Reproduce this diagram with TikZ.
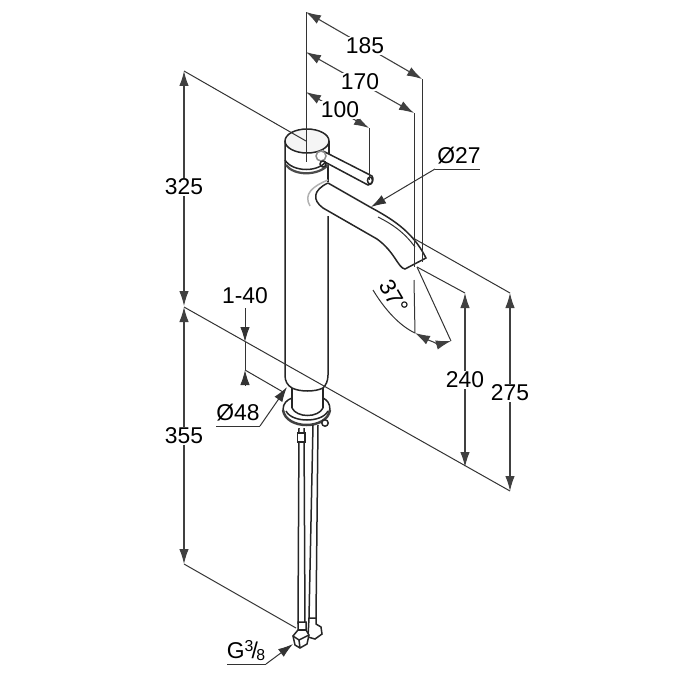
\documentclass[tikz,border=0pt]{standalone}
\usepackage{fontspec}
\setmainfont{Liberation Sans}
\usetikzlibrary{arrows.meta}
\tikzset{
  dimline/.style = {line width = 0.22mm, draw = black!75, {Latex[length=3mm,width=1.9mm]}-{Latex[length=3mm,width=1.9mm]}},
  helpline/.style = {line width = 0.2mm, draw = black!80},
  pointer/.style = {helpline, -{Latex[length=3mm,width=1.9mm]}},
  outline/.style = {line width = 0.3mm, draw = black!85},
  dimtext/.style = {fill = white, inner sep = 0.6pt, font = \fontsize{13}{13}\selectfont}
}
\begin{document}
\begin{tikzpicture}[x = 0.02cm, y = -0.02cm]
    \useasboundingbox (0,0) rectangle (700,700);
    % tap body
    \draw[outline] (285,141) -- (285,375) .. controls (285,381) and (287,385) .. (292,388);
    \draw[outline] (328,165) -- (328,182);
    \draw[outline] (328,216) -- (328,375) .. controls (328,381) and (326,385) .. (323,388);
    \draw[outline] (292,388) .. controls (300,392) and (315,392) .. (323,388);
    \draw[outline] (292,388) -- (292,408);
    \draw[outline] (323,388) -- (323,408);
    % cap
    \draw[outline, fill = black!4] (307,141) ellipse (22 and 12);
    \draw[outline] (329,141) -- (329,158);
    \draw[outline] (285,160) .. controls (292,172) and (320,174) .. (329,158);
    \draw[line width = 0.45mm, draw = black!70] (286,165) .. controls (294,176) and (318,176) .. (328,165);
    % lever
    \draw[outline, fill = white] (323,151) -- (372,176) .. controls (374,178) and (373,185) .. (368,185) -- (323,161);
    \draw[outline] (370,180.5) ellipse (2.5 and 3.5);
    \draw[line width = 0.3mm, draw = black!45, fill = white] (321,156) circle (5);
    \draw[outline] (323,164) circle (3);
    % spout
    \draw[line width = 0.3mm, draw = black!30] (328,180) .. controls (313,186) and (303,194) .. (310,206);
    \draw[outline] (328,183) -- (370,207) .. controls (390,218) and (412,230) .. (426,258) -- (405,269)
        .. controls (398,268) and (395,252) .. (377,239) -- (323,208) .. controls (312,200) and (313,190) .. (328,183);
    \draw[helpline] (378,217) .. controls (392,224) and (404,232) .. (415,247);
    % base ring
    \draw[outline] (283,410) .. controls (283,403) and (287,400) .. (292,398);
    \draw[outline] (330,410) .. controls (330,403) and (327,400) .. (323,398);
    \draw[line width = 0.5mm, draw = black!75] (283,410) .. controls (286,430) and (327,430) .. (330,410);
    \draw[outline] (292,408) .. controls (297,418) and (318,418) .. (323,408);
    \draw[outline] (286,411) .. controls (292,423) and (322,423) .. (328,411);
    \draw[outline, fill = white] (325,423) circle (3.2);
    % supply pipes
    \draw[outline] (299,428) -- (298,624);
    \draw[outline] (304,428) -- (305,624);
    \draw[outline] (313,425) -- (309,618);
    \draw[outline] (318,425) -- (316,618);
    \draw[outline, fill = white] (297.5,433) rectangle (305,442);
    % connectors
    \draw[outline, fill = white] (309,618) -- (316,618) -- (316,624) -- (321,627) -- (322,634) -- (315,639) -- (308,637) -- cycle;
    \draw[outline, fill = white] (298,622) -- (306,622) -- (306,630) -- (309,635) -- (307,644) -- (300,648) -- (295,645) -- (293,636) -- (298,630) -- cycle;
    \draw[outline] (293,636) -- (299,640) -- (309,635);
    \draw[outline] (299,640) -- (300,648);
    \draw[outline] (298,630) -- (306,630);
    % help lines
    \coordinate (a185) at (306,12);
    \coordinate (b185) at (422,79);
    \coordinate (a170) at (306,52);
    \coordinate (b170) at (414,113);
    \coordinate (a100) at (306,92);
    \coordinate (b100) at (369,128);
    \coordinate (a325) at (184,71);
    \coordinate (b325) at (184,306);
    \coordinate (a355) at (184,307);
    \coordinate (b355) at (184,564);
    \coordinate (a240) at (465,293);
    \coordinate (b240) at (465,467);
    \coordinate (a275) at (510,293);
    \coordinate (b275) at (510,491);
    \coordinate (a37) at (415,333);
    \coordinate (b37) at (451,341);
    \coordinate (a140) at (245,342);
    \coordinate (b140) at (245,370);
    \draw[helpline] (a185) -- (306,162);
    \draw[helpline] (b185) -- (422,262);
    \draw[helpline] (b170) -- (414,267);
    \draw[helpline] (b100) -- (369,180);
    \draw[helpline] (a325) -- (306,141);
    \draw[helpline] (a355) -- (b275);
    \draw[helpline] (b355) -- (296,628);
    \draw[helpline] (413,238) -- (a275);
    \draw[helpline] (417,267) -- (a240);
    \draw[helpline] (414,280) -- (a37);
    \draw[helpline] (417,267) -- (b37);
    \draw[helpline] (373,290) .. controls (385,310) and (400,326) .. (a37);
    \draw[helpline] (b140) -- (283,392);
    % dimensions
    \draw[dimline] (a185) -- (b185);
    \draw[dimline] (a170) -- (b170);
    \draw[dimline] (a100) -- (b100);
    \draw[dimline] (a325) -- (b325);
    \draw[dimline] (a355) -- (b355);
    \draw[dimline] (a240) -- (b240);
    \draw[dimline] (a275) -- (b275);
    \draw[dimline] (a37) .. controls (428,340) and (440,344) .. (b37);
    \draw[pointer] (245,308) -- (a140);
    \draw[pointer] (245,385) -- (b140);
    \draw[helpline] (a140) -- (b140);
    \draw[pointer] (435,169) -- (371,207);
    \draw[helpline] (435,169) -- (480,169);
    \draw[pointer] (260,426) -- (287,387);
    \draw[helpline] (216,426) -- (260,426);
    \draw[pointer] (266,664) -- (293,644);
    \draw[helpline] (227,664) -- (266,664);
    % labels
    \node[dimtext] (l185) at (365,46) {185};
    \node[dimtext] (l170) at (360,82) {170};
    \node[dimtext] (l100) at (340,110) {100};
    \node[dimtext] (l325) at (184,187) {325};
    \node[dimtext] (l355) at (184,436) {355};
    \node[dimtext] (l240) at (465,380) {240};
    \node[dimtext] (l275) at (510,393) {275};
    \node[dimtext] (l140) at (245,296) {1-40};
    \node[dimtext, fill = none] (l27) at (459,156) {Ø27};
    \node[dimtext, fill = none] (l48) at (238,413) {Ø48};
    \node[dimtext, fill = none] (lG) at (246,651) {G\raisebox{0.55ex}{\fontsize{9}{9}\selectfont 3}\kern-1pt/\kern-1pt\raisebox{-0.2ex}{\fontsize{9}{9}\selectfont 8}};
    \node[dimtext, fill = none, rotate = -60] (l37) at (394,297) {37°};
\end{tikzpicture}
\end{document}
